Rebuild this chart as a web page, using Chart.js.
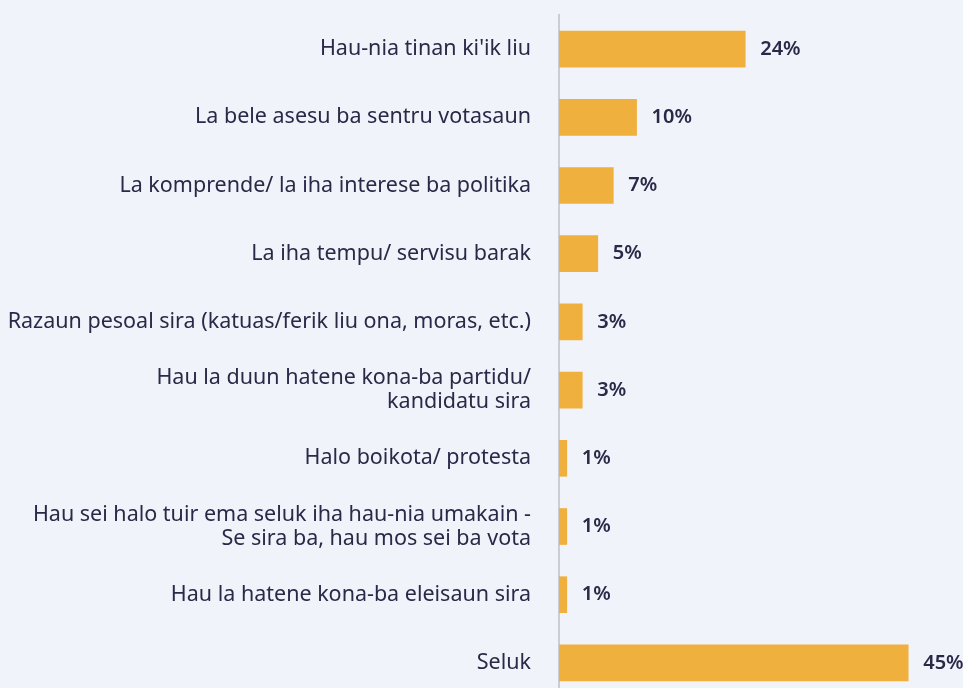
<!DOCTYPE html>
<html>
<head>
<meta charset="utf-8">
<script src="https://cdn.jsdelivr.net/npm/chart.js@4.4.1/dist/chart.umd.min.js"></script>
<style>
  html, body { margin: 0; padding: 0; background: #f0f3f9; overflow: hidden; }
  #wrap { position: relative; width: 963px; height: 700px; }
</style>
</head>
<body>
<div id="wrap"><canvas id="c" width="963" height="700"></canvas></div>
<script>
const categories = [
  "Hau-nia tinan ki'ik liu",
  "La bele asesu ba sentru votasaun",
  "La komprende/ la iha interese ba politika",
  "La iha tempu/ servisu barak",
  "Razaun pesoal sira (katuas/ferik liu ona, moras, etc.)",
  ["Hau la duun hatene kona-ba partidu/", "kandidatu sira"],
  "Halo boikota/ protesta",
  ["Hau sei halo tuir ema seluk iha hau-nia umakain -", "Se sira ba, hau mos sei ba vota"],
  "Hau la hatene kona-ba eleisaun sira",
  "Seluk"
];
const values = [24, 10, 7, 5, 3, 3, 1, 1, 1, 45];
const valueLabels = values.map(v => v + "%");

const textColor = "#2b2848";
const fontFamily = "'Noto Sans', sans-serif";

const valueLabelPlugin = {
  id: "valueLabels",
  afterDatasetsDraw(chart) {
    const ctx = chart.ctx;
    const meta = chart.getDatasetMeta(0);
    ctx.save();
    ctx.font = "600 20px " + fontFamily;
    ctx.fillStyle = textColor;
    ctx.textAlign = "left";
    ctx.textBaseline = "middle";
    meta.data.forEach((bar, i) => {
      ctx.fillText(valueLabels[i], bar.x + 15, bar.y);
    });
    ctx.restore();
  }
};

new Chart(document.getElementById("c"), {
  type: "bar",
  data: {
    labels: categories,
    datasets: [{
      data: values,
      backgroundColor: "#f0b03e",
      borderWidth: 0,
      barThickness: 36
    }]
  },
  options: {
    indexAxis: "y",
    responsive: false,
    animation: false,
    devicePixelRatio: 1,
    layout: { padding: { top: 15, right: 16, bottom: 3, left: 0 } },
    plugins: { legend: { display: false }, tooltip: { enabled: false } },
    scales: {
      x: {
        display: false,
        min: 0,
        max: 50,
        grid: { display: false }
      },
      y: {
        afterFit(scale) {
          scale.width = 559;
          scale.paddingTop = 0;
          scale.paddingBottom = 0;
        },
        grid: { display: false, drawTicks: false },
        border: { display: true, color: "#c9cdd5", width: 2 },
        ticks: {
          color: textColor,
          padding: 28,
          autoSkip: false,
          font: { family: fontFamily, size: 21.5, lineHeight: 1.12 }
        }
      }
    }
  },
  plugins: [valueLabelPlugin]
});
</script>
</body>
</html>
